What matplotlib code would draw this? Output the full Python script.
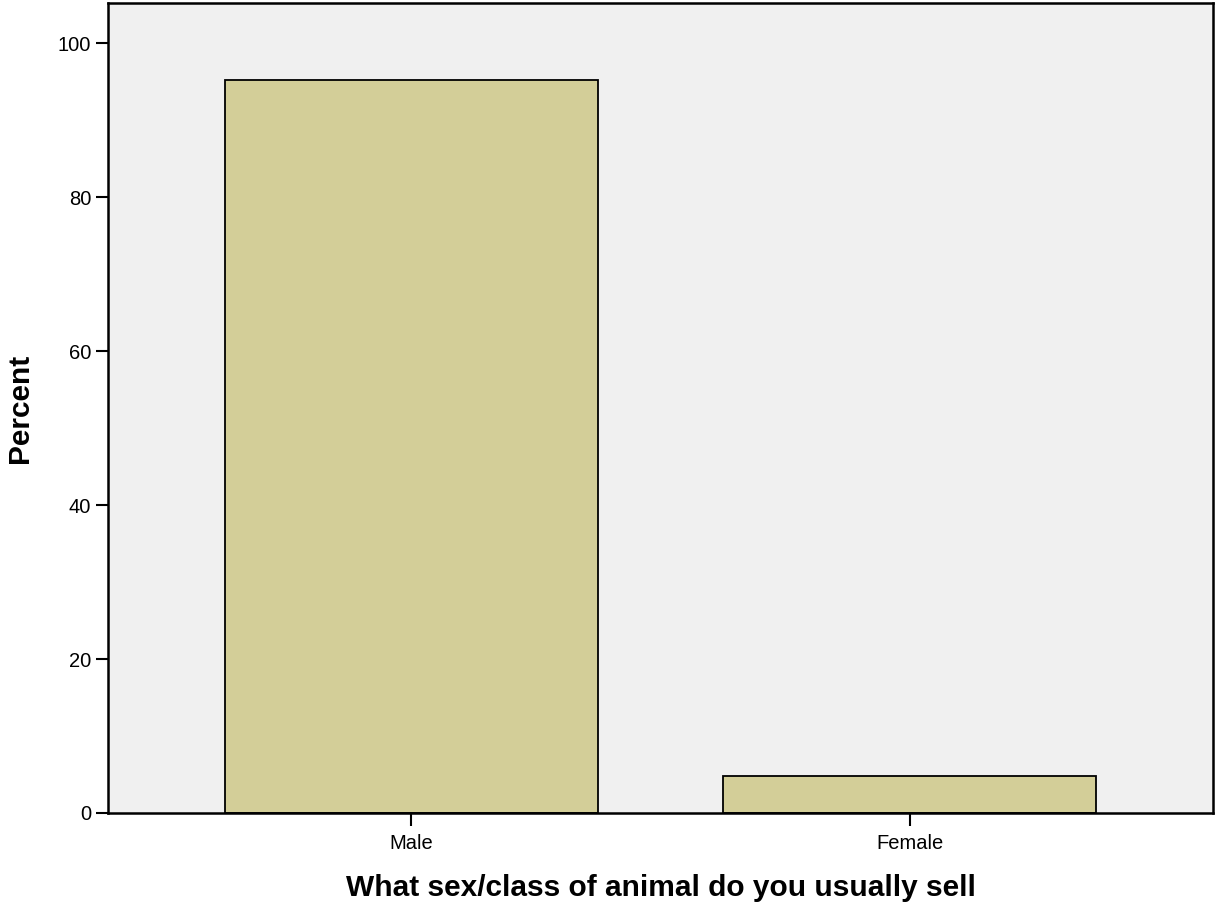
import numpy as np
import matplotlib.pyplot as plt

plt.rcParams['font.family'] = ['Liberation Sans', 'DejaVu Sans']

# Data
categories = ['Male', 'Female']
percent = [95.2, 4.8]

x = np.arange(len(categories))

fig = plt.figure(figsize=(12.16, 9.11), dpi=100)
ax = fig.add_axes([0.0888, 0.1076, 0.9087, 0.889])
ax.set_facecolor('#f0f0f0')

ax.bar(x, percent, width=0.75, color='#d3ce98', edgecolor='black', linewidth=1.3)

ax.set_xlim(-0.609, 1.609)
ax.set_ylim(0, 105.2)
ax.set_xticks(x)
ax.set_xticklabels(categories)
ax.set_yticks([0, 20, 40, 60, 80, 100])

ax.tick_params(axis='both', direction='out', length=9, width=1.5,
               labelsize=14.5, colors='black', pad=3)
ax.tick_params(axis='x', pad=6)
for s in ax.spines.values():
    s.set_linewidth(1.8)

ax.set_xlabel('What sex/class of animal do you usually sell',
              fontsize=21.5, fontweight='bold', labelpad=15)
ax.set_ylabel('Percent', fontsize=21.5, fontweight='bold')
ax.yaxis.set_label_coords(-0.067, 0.5)

fig.savefig('out.png', dpi=100)
